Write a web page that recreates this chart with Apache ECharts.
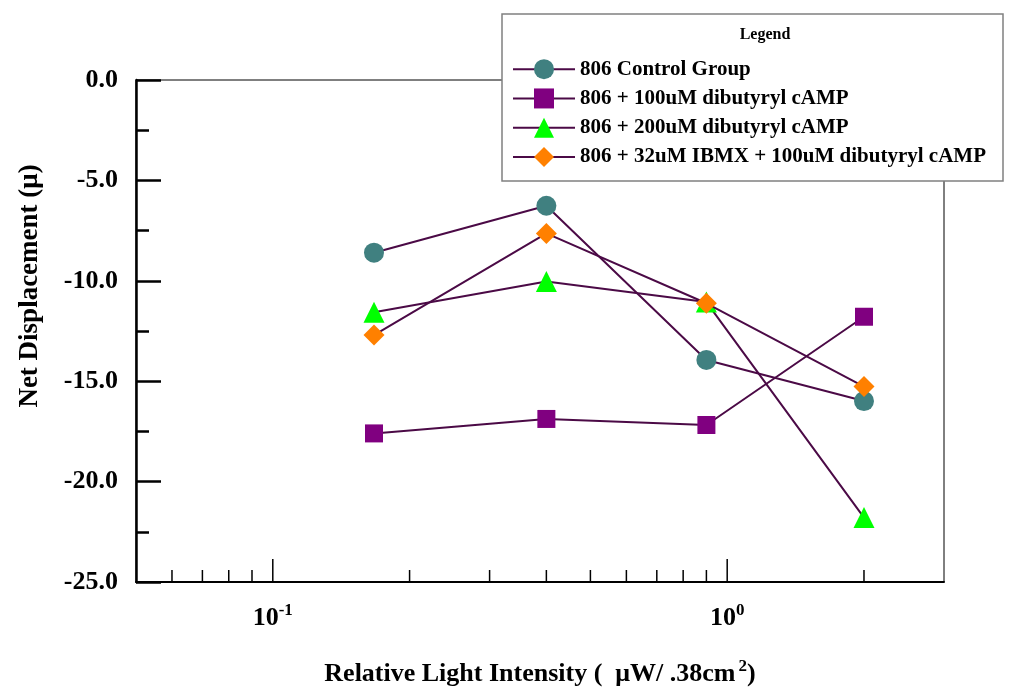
<!DOCTYPE html>
<html>
<head>
<meta charset="utf-8">
<script src="https://cdn.jsdelivr.net/npm/echarts@6/dist/echarts.min.js"></script>
<style>
html,body{margin:0;padding:0;background:#fff;}
#chart{width:1011px;height:688px;}
</style>
</head>
<body>
<div id="chart"></div>
<script>
// ---- data ----
const seriesNames = [
  '806 Control Group',
  '806 + 100uM dibutyryl cAMP',
  '806 + 200uM dibutyryl cAMP',
  '806 + 32uM IBMX + 100uM dibutyryl cAMP'
];
const lightIntensity = [0.167, 0.4, 0.9, 2.0];
const controlGroup = [-8.60, -6.26, -13.94, -15.99];
const cAMP100 = [-17.60, -16.88, -17.18, -11.79];
const cAMP200 = [-11.57, -10.04, -11.06, -21.79];
const ibmxCAMP100 = [-12.70, -7.64, -11.12, -15.27];
const xMajorTicks = [0.1, 1];
const xMinorTicks = [0.06, 0.07, 0.08, 0.09, 0.2, 0.3, 0.4, 0.5, 0.6, 0.7, 0.8, 0.9, 2];
const yTickLabels = ['-25.0', '-20.0', '-15.0', '-10.0', '-5.0', '0.0'];
const xMin = 0.05, xMax = 3, yMin = -25, yMax = 0, yInterval = 5;

// ---- styles ----
const FONT = "'Liberation Serif', 'Times New Roman', serif";
const lineColor = '#4b0a46';
const markerStyles = [
  {symbol: 'circle', size: 20, color: '#408080'},
  {symbol: 'rect', size: 18, color: '#800080'},
  {symbol: 'triangle', size: 21, color: '#00ff00'},
  {symbol: 'diamond', size: 21, color: '#ff8000'}
];
const allValues = [controlGroup, cAMP100, cAMP200, ibmxCAMP100];

const chart = echarts.init(document.getElementById('chart'), null, {renderer: 'canvas'});

const lineSeries = allValues.map((vals, i) => ({
  name: seriesNames[i],
  type: 'line',
  data: lightIntensity.map((x, j) => [x, vals[j]]),
  symbol: markerStyles[i].symbol,
  symbolSize: markerStyles[i].size,
  itemStyle: {color: markerStyles[i].color, opacity: 1},
  lineStyle: {color: lineColor, width: 2},
  z: 3 + i,
  animation: false,
  emphasis: {disabled: true}
}));

const tickData = xMajorTicks.map(v => [v, yMin, 1]).concat(xMinorTicks.map(v => [v, yMin, 0]));
const tickSeries = {
  type: 'custom',
  silent: true,
  animation: false,
  data: tickData,
  encode: {x: 0, y: 1},
  z: 2,
  renderItem: function (params, api) {
    const p = api.coord([api.value(0), api.value(1)]);
    const len = api.value(2) ? 23 : 12;
    return {
      type: 'line',
      shape: {x1: p[0], y1: p[1], x2: p[0], y2: p[1] - len},
      style: {stroke: '#000', lineWidth: 1.5}
    };
  }
};

function isPow10(v) {
  const l = Math.log10(v);
  return Math.abs(l - Math.round(l)) < 1e-6;
}

const option = {
  backgroundColor: '#fff',
  animation: false,
  grid: {
    left: 136, right: 67, top: 80, bottom: 106,
    containLabel: false,
    outerBoundsMode: 'none',
    show: true, borderColor: '#000', borderWidth: 1, backgroundColor: 'transparent'
  },
  xAxis: {
    type: 'log',
    logBase: 10,
    min: xMin,
    max: xMax,
    name: 'Relative Light Intensity (  μW/ .38cm{sup|2})',
    nameLocation: 'middle',
    nameGap: 76,
    nameTextStyle: {
      fontFamily: FONT, fontWeight: 'bold', fontSize: 26, color: '#000',
      rich: {sup: {fontFamily: FONT, fontWeight: 'bold', fontSize: 17, color: '#000', verticalAlign: 'top', padding: [0, 0, 16, 3]}}
    },
    axisLine: {show: true, onZero: false, lineStyle: {color: '#000', width: 2}},
    axisTick: {show: false},
    minorTick: {show: false},
    splitLine: {show: false},
    axisLabel: {
      margin: 20,
      showMinLabel: true, showMaxLabel: true,
      formatter: function (v) {
        if (!isPow10(v)) return '';
        const e = Math.round(Math.log10(v));
        return '{b|10}{s|' + e + '}';
      },
      rich: {
        b: {fontFamily: FONT, fontWeight: 'bold', fontSize: 26, color: '#000'},
        s: {fontFamily: FONT, fontWeight: 'bold', fontSize: 17, color: '#000', verticalAlign: 'top', padding: [0, 0, 16, 0]}
      }
    }
  },
  yAxis: {
    type: 'value',
    min: yMin,
    max: yMax,
    interval: yInterval,
    name: 'Net Displacement (μ)',
    nameLocation: 'middle',
    nameRotate: 90,
    nameGap: 92,
    nameTextStyle: {fontFamily: FONT, fontWeight: 'bold', fontSize: 27, color: '#000', padding: [0, 0, 0, 90]},
    axisLine: {show: true, onZero: false, lineStyle: {color: '#000', width: 2.5}},
    axisTick: {show: true, inside: true, length: 25, lineStyle: {color: '#000', width: 2.5}},
    minorTick: {show: true, splitNumber: 2, length: 13, lineStyle: {color: '#000', width: 2.5}},
    splitLine: {show: false},
    axisLabel: {
      margin: 18,
      fontFamily: FONT, fontWeight: 'bold', fontSize: 26, color: '#000',
      formatter: function (v) {
        const idx = Math.round((v - yMin) / yInterval);
        return yTickLabels[idx] !== undefined ? yTickLabels[idx] : v.toFixed(1);
      }
    }
  },
  legend: {
    data: seriesNames,
    orient: 'vertical',
    left: 512,
    top: 54.5,
    padding: 0,
    itemWidth: 62,
    itemHeight: 25,
    itemGap: 0,
    selectedMode: false,
    z: 20,
    textStyle: {fontFamily: FONT, fontWeight: 'bold', fontSize: 21, color: '#000', lineHeight: 29.3, height: 29.3}
  },
  graphic: [
    {
      type: 'rect', z: 10, silent: true,
      shape: {x: 502, y: 14, width: 501, height: 167},
      style: {fill: '#fff', stroke: '#808080', lineWidth: 1.5}
    },
    {
      type: 'text', z: 20, silent: true,
      x: 765, y: 35,
      style: {text: 'Legend', fontFamily: FONT, fontWeight: 'bold', fontSize: 16, fill: '#000', align: 'center', verticalAlign: 'middle'}
    }
  ],
  series: [tickSeries].concat(lineSeries)
};
chart.setOption(option);
</script>
</body>
</html>
